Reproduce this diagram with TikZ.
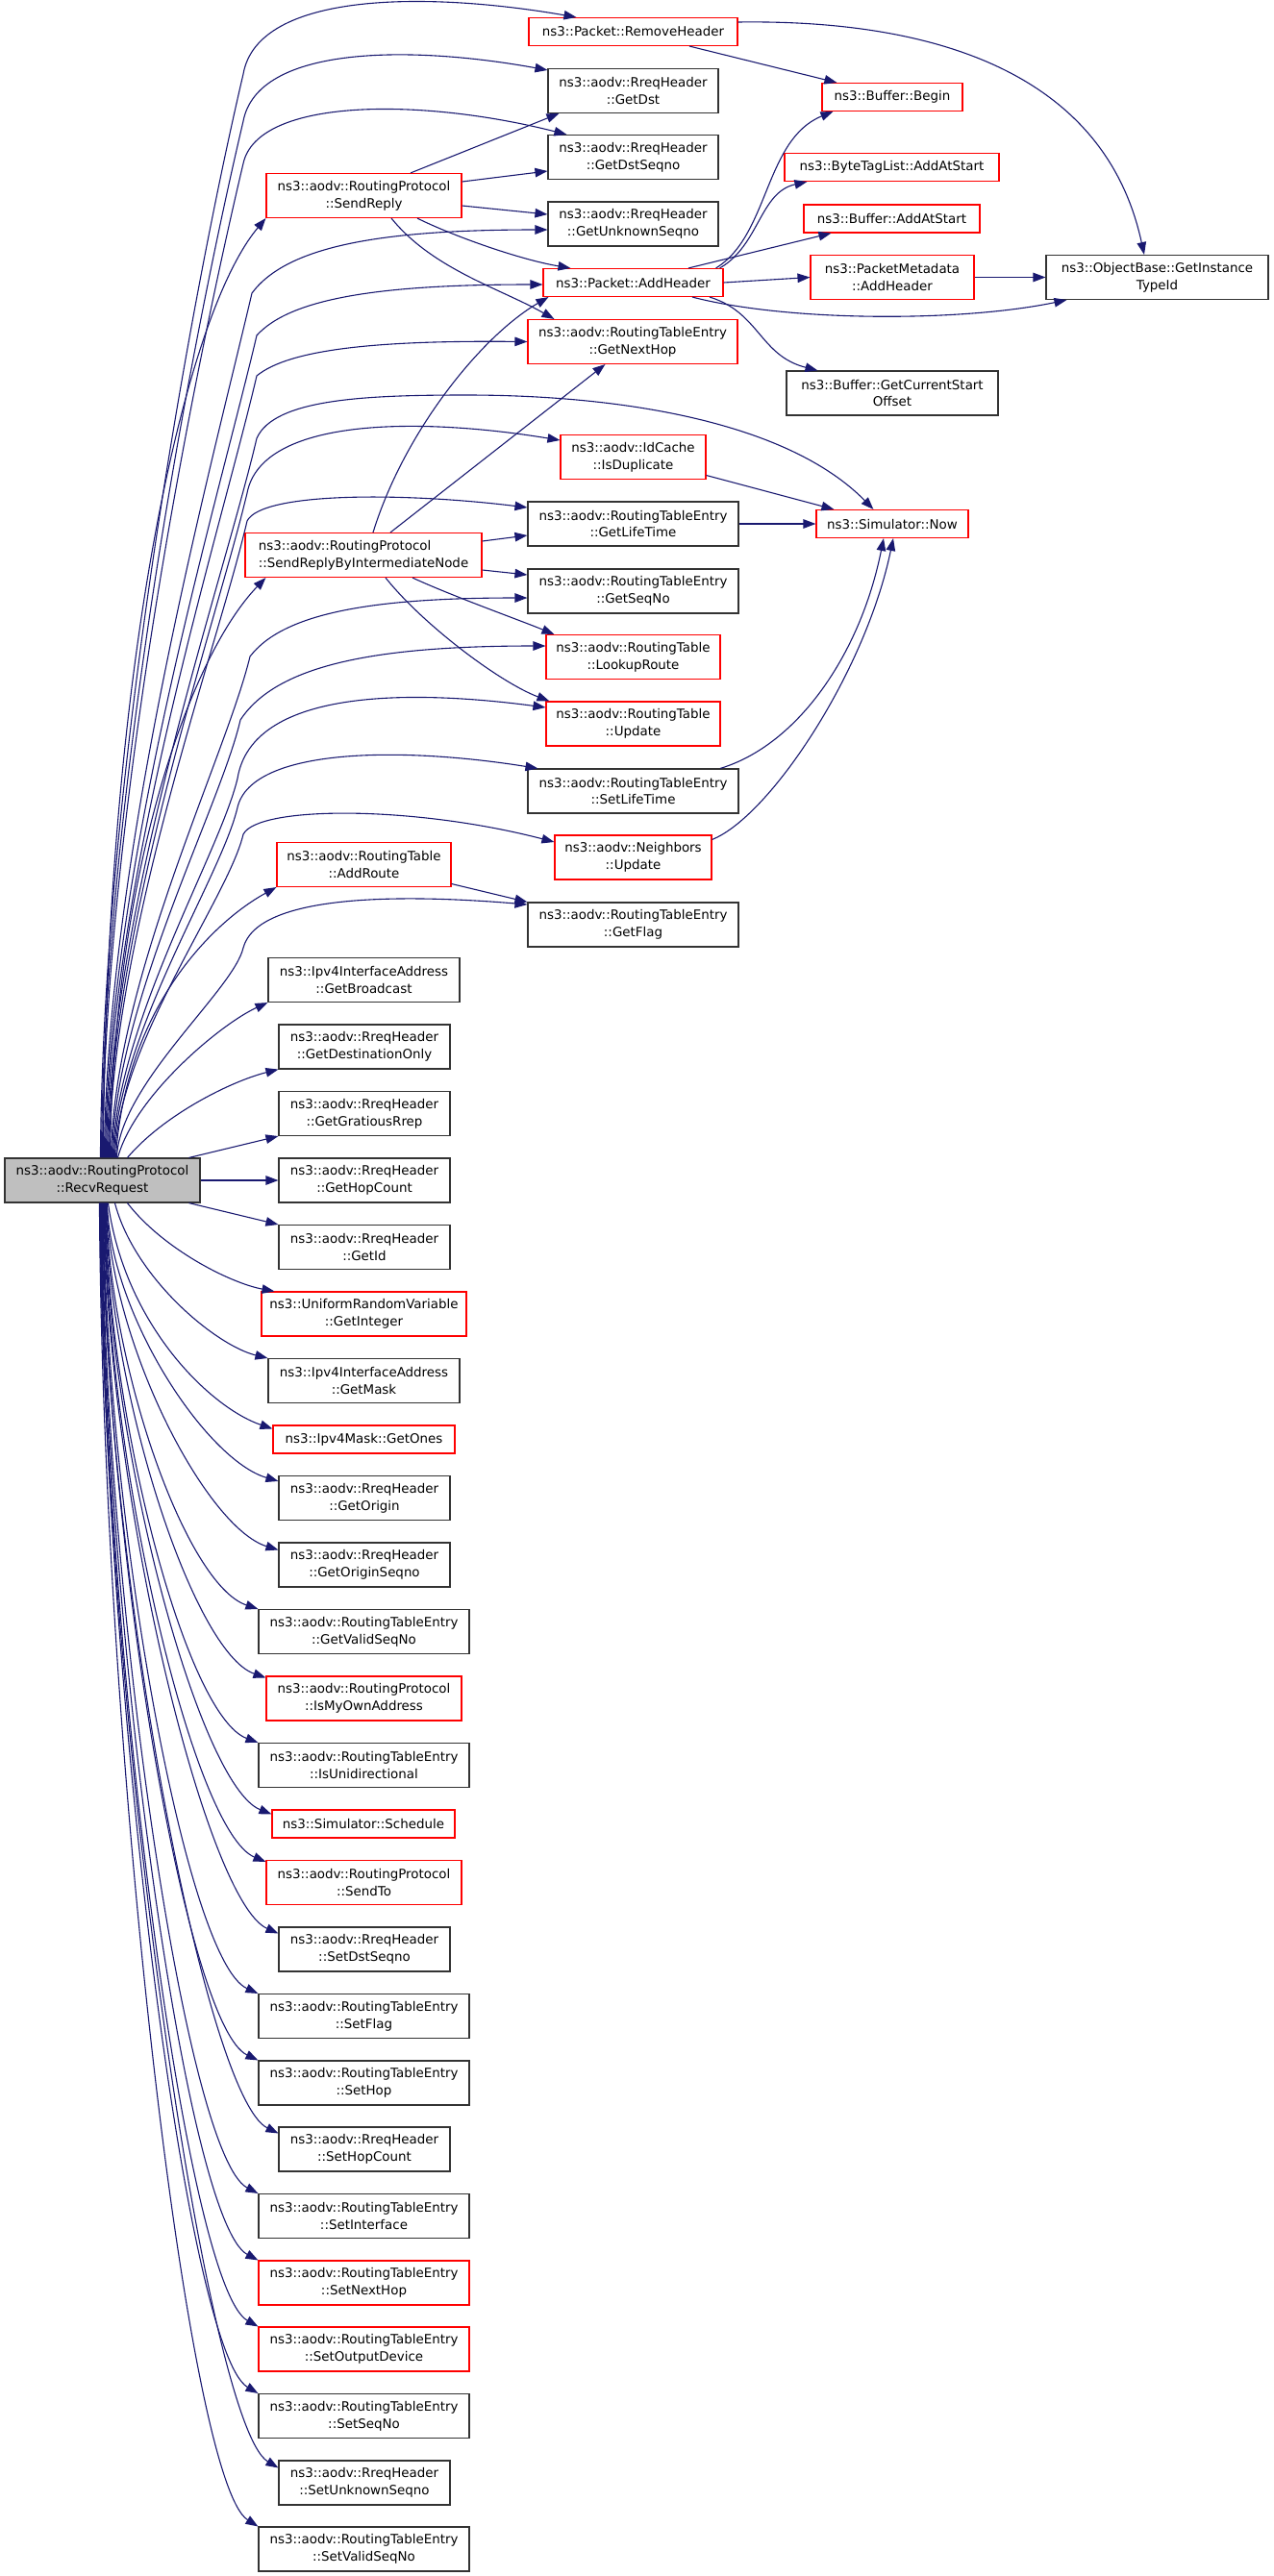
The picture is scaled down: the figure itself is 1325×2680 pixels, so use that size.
\documentclass[tikz,border=0pt]{standalone}
\usepackage{fontspec}
\setmainfont{DejaVu Sans}
\usetikzlibrary{arrows.meta,calc}
\definecolor{edgec}{HTML}{191970}
\definecolor{boxk}{HTML}{333333}
\definecolor{boxr}{HTML}{FF0000}
\definecolor{mainfill}{HTML}{BFBFBF}
\newcommand\nfnt{\fontsize{13.4}{17.6}\selectfont}
\begin{document}
\begin{tikzpicture}[x=1pt,y=-1pt,
  nbase/.style={draw, line width=1.1pt, inner sep=0pt, align=center, font=\nfnt, fill=white},
  kbox/.style={nbase, draw=boxk},
  rbox/.style={nbase, draw=boxr},
  mbox/.style={nbase, draw=boxk, fill=mainfill},
  twol/.style={minimum height=46pt},
  onel/.style={minimum height=29pt},
  conn/.style={draw=edgec, line width=1.1pt, -{Triangle[length=13pt,width=9.5pt]}}
]
\useasboundingbox (0,0) rectangle (1325,2680);

% main node
\node[mbox,twol,minimum width=203pt] (R) at (106.5,1228) {ns3::aodv::RoutingProtocol\\::RecvRequest};

% column 2
\node[rbox,twol,minimum width=203pt] (SR) at (378.5,203.5) {ns3::aodv::RoutingProtocol\\::SendReply};
\node[rbox,twol,minimum width=246pt,align=left] (SRBIN) at (378,577.5) {ns3::aodv::RoutingProtocol\\::SendReplyByIntermediateNode};
\node[rbox,twol,minimum width=181pt] (AR) at (378.5,899.5) {ns3::aodv::RoutingTable\\::AddRoute};
\node[kbox,twol,minimum width=199pt] (GB) at (378.5,1019.5) {ns3::Ipv4InterfaceAddress\\::GetBroadcast};
\node[kbox,twol,minimum width=178pt] (GDO) at (379,1089) {ns3::aodv::RreqHeader\\::GetDestinationOnly};
\node[kbox,twol,minimum width=178pt] (GGR) at (379,1158.5) {ns3::aodv::RreqHeader\\::GetGratiousRrep};
\node[kbox,twol,minimum width=178pt] (GHC) at (379,1228) {ns3::aodv::RreqHeader\\::GetHopCount};
\node[kbox,twol,minimum width=178pt] (GID) at (379,1297.5) {ns3::aodv::RreqHeader\\::GetId};
\node[rbox,twol,minimum width=213pt] (GINT) at (378.5,1367) {ns3::UniformRandomVariable\\::GetInteger};
\node[kbox,twol,minimum width=199pt] (GM) at (378.5,1436.5) {ns3::Ipv4InterfaceAddress\\::GetMask};
\node[rbox,onel,minimum width=189pt] (GONE) at (378.5,1497.5) {ns3::Ipv4Mask::GetOnes};
\node[kbox,twol,minimum width=178pt] (GOR) at (379,1558.5) {ns3::aodv::RreqHeader\\::GetOrigin};
\node[kbox,twol,minimum width=178pt] (GORS) at (379,1628) {ns3::aodv::RreqHeader\\::GetOriginSeqno};
\node[kbox,twol,minimum width=219pt] (GVS) at (378.5,1697.5) {ns3::aodv::RoutingTableEntry\\::GetValidSeqNo};
\node[rbox,twol,minimum width=203pt] (IMOA) at (378.5,1767) {ns3::aodv::RoutingProtocol\\::IsMyOwnAddress};
\node[kbox,twol,minimum width=219pt] (IUNI) at (378.5,1836.5) {ns3::aodv::RoutingTableEntry\\::IsUnidirectional};
\node[rbox,onel,minimum width=190pt] (SCH) at (378,1897.5) {ns3::Simulator::Schedule};
\node[rbox,twol,minimum width=203pt] (STO) at (378.5,1958.5) {ns3::aodv::RoutingProtocol\\::SendTo};
\node[kbox,twol,minimum width=178pt] (SDS) at (379,2028) {ns3::aodv::RreqHeader\\::SetDstSeqno};
\node[kbox,twol,minimum width=219pt] (SFL) at (378.5,2097.5) {ns3::aodv::RoutingTableEntry\\::SetFlag};
\node[kbox,twol,minimum width=219pt] (SHOP) at (378.5,2167) {ns3::aodv::RoutingTableEntry\\::SetHop};
\node[kbox,twol,minimum width=178pt] (SHC) at (379,2236) {ns3::aodv::RreqHeader\\::SetHopCount};
\node[kbox,twol,minimum width=219pt] (SIF) at (378.5,2305.5) {ns3::aodv::RoutingTableEntry\\::SetInterface};
\node[rbox,twol,minimum width=219pt] (SNH) at (378.5,2375) {ns3::aodv::RoutingTableEntry\\::SetNextHop};
\node[rbox,twol,minimum width=219pt] (SOD) at (378.5,2444) {ns3::aodv::RoutingTableEntry\\::SetOutputDevice};
\node[kbox,twol,minimum width=219pt] (SSN) at (378.5,2513.5) {ns3::aodv::RoutingTableEntry\\::SetSeqNo};
\node[kbox,twol,minimum width=178pt] (SUS) at (379,2583) {ns3::aodv::RreqHeader\\::SetUnknownSeqno};
\node[kbox,twol,minimum width=219pt] (SVS) at (378.5,2652) {ns3::aodv::RoutingTableEntry\\::SetValidSeqNo};

% column 3
\node[rbox,onel,minimum width=217pt] (RH) at (658.5,33) {ns3::Packet::RemoveHeader};
\node[kbox,twol,minimum width=177pt] (GDST) at (658.5,94.5) {ns3::aodv::RreqHeader\\::GetDst};
\node[kbox,twol,minimum width=177pt] (GDS) at (658.5,163.5) {ns3::aodv::RreqHeader\\::GetDstSeqno};
\node[kbox,twol,minimum width=177pt] (GUS) at (658.5,233) {ns3::aodv::RreqHeader\\::GetUnknownSeqno};
\node[rbox,onel,minimum width=187pt] (AH) at (658.5,294) {ns3::Packet::AddHeader};
\node[rbox,twol,minimum width=218pt] (GNH) at (658,355.5) {ns3::aodv::RoutingTableEntry\\::GetNextHop};
\node[rbox,twol,minimum width=151pt] (ID) at (658.5,475.5) {ns3::aodv::IdCache\\::IsDuplicate};
\node[kbox,twol,minimum width=219pt] (GLT) at (658.5,545) {ns3::aodv::RoutingTableEntry\\::GetLifeTime};
\node[kbox,twol,minimum width=219pt] (GSN) at (658.5,615) {ns3::aodv::RoutingTableEntry\\::GetSeqNo};
\node[rbox,twol,minimum width=181pt] (LR) at (658.5,683.5) {ns3::aodv::RoutingTable\\::LookupRoute};
\node[rbox,twol,minimum width=181pt] (UPD) at (658.5,753) {ns3::aodv::RoutingTable\\::Update};
\node[kbox,twol,minimum width=219pt] (SLT) at (658.5,823) {ns3::aodv::RoutingTableEntry\\::SetLifeTime};
\node[rbox,twol,minimum width=163pt] (NB) at (658.5,892) {ns3::aodv::Neighbors\\::Update};
\node[kbox,twol,minimum width=219pt] (GF) at (658.5,962) {ns3::aodv::RoutingTableEntry\\::GetFlag};

% column 4
\node[rbox,onel,minimum width=146pt] (BB) at (928,101) {ns3::Buffer::Begin};
\node[rbox,onel,minimum width=223pt] (BTL) at (927.5,174) {ns3::ByteTagList::AddAtStart};
\node[rbox,onel,minimum width=183pt] (BAS) at (927.5,227.5) {ns3::Buffer::AddAtStart};
\node[rbox,twol,minimum width=170pt] (PMA) at (928,288.5) {ns3::PacketMetadata\\::AddHeader};
\node[kbox,twol,minimum width=220pt] (GCSO) at (928,409) {ns3::Buffer::GetCurrentStart\\Offset};
\node[rbox,onel,minimum width=158pt] (NOW) at (928,545) {ns3::Simulator::Now};

% column 5
\node[kbox,twol,minimum width=231pt] (OB) at (1203.5,288.5) {ns3::ObjectBase::GetInstance\\TypeId};

% ---- edges from RecvRequest, upward ----
\draw[conn] ($(R.north west)+(100,0)$) .. controls (107,810) and (200,303) .. (253,77) .. controls (268,-9) and (444,-9) .. ($(RH.north west)+(50,0)$);
\draw[conn] ($(R.north west)+(101,0)$) .. controls (108,827) and (202,342) .. (253,126) .. controls (268,47) and (427,47) .. ($(GDST.north west)+(0,2)$);
\draw[conn] ($(R.north west)+(102,0)$) .. controls (109,843) and (204,377) .. (253,170) .. controls (268,101.5) and (438,101.5) .. ($(GDS.north west)+(20,0)$);
\draw[conn] ($(R.north west)+(103,0)$) .. controls (110,700) and (190,330) .. (SR.south west);
\draw[conn] ($(R.north west)+(104,0)$) .. controls (111,890) and (220,485) .. (262,305) .. controls (299,255) and (400,239) .. ($(GUS.west)+(0,6)$);
\draw[conn] ($(R.north west)+(105,0)$) .. controls (112,905) and (227,520) .. (267,349) .. controls (303,309) and (401,296) .. ($(AH.west)+(0,2)$);
\draw[conn] ($(R.north west)+(106,0)$) .. controls (113,920) and (229,554) .. (267,391) .. controls (301,363) and (394,354) .. (GNH.west);
\draw[conn] ($(R.north west)+(107,0)$) .. controls (114,943) and (232,606) .. (267,456) .. controls (285,415) and (380,411) .. (485,411) .. controls (650,411) and (820,440) .. ($(NOW.north west)+(60,0)$);
\draw[conn] ($(R.north west)+(108,0)$) .. controls (115,963) and (224,651) .. (257,513) .. controls (272,434) and (436,434) .. ($(ID.west)+(0,-17.5)$);
\draw[conn] ($(R.north west)+(109,0)$) .. controls (116,973) and (226,675) .. (257,542) .. controls (272,512) and (418,512) .. ($(GLT.west)+(0,-17)$);
\draw[conn] ($(R.north west)+(110,0)$) .. controls (118,900) and (200,680) .. ($(SRBIN.south west)+(22,0)$);
\draw[conn] ($(R.north west)+(111,0)$) .. controls (118,1022) and (235,787) .. (260,683) .. controls (295,637) and (390,622) .. ($(GSN.west)+(0,7)$);
\draw[conn] ($(R.north west)+(112,0)$) .. controls (119,1045) and (229,840) .. (250,749) .. controls (288,691) and (393,672) .. ($(LR.west)+(0,-11.5)$);
\draw[conn] ($(R.north west)+(113,0)$) .. controls (120,1067) and (228,889) .. (247,810) .. controls (262,717) and (424,717) .. ($(UPD.west)+(0,-17)$);
\draw[conn] ($(R.north west)+(114,0)$) .. controls (121,1077) and (230,913) .. (247,840) .. controls (262,777) and (420,777) .. ($(SLT.north west)+(11,0)$);
\draw[conn] ($(R.north west)+(115,0)$) .. controls (122,1087) and (237,935) .. (253,868) .. controls (268,838) and (431,838) .. ($(NB.west)+(0,-16)$);
\draw[conn] ($(R.north west)+(116,0)$) .. controls (130,1050) and (220,960) .. (AR.south west);
\draw[conn] ($(R.north west)+(117,0)$) .. controls (124,1128) and (243,1030) .. (253,986) .. controls (268,930) and (417,930) .. ($(GF.west)+(0,-21)$);
\draw[conn] ($(R.north west)+(118,0)$) .. controls (140,1140) and (230,1065) .. (GB.south west);
\draw[conn] ($(R.north west)+(128,0)$) .. controls (170,1160) and (240,1125) .. (GDO.south west);
\draw[conn] ($(R.north west)+(192,0)$) -- (GGR.south west);
\draw[conn] (R.east) -- (GHC.west);

% ---- edges from RecvRequest, downward ----
\draw[conn] ($(R.south west)+(192,0)$) -- (GID.north west);
\draw[conn] ($(R.south west)+(128,0)$) .. controls (170,1300) and (240,1335) .. ($(GINT.north west)+(14,0)$);
\draw[conn] ($(R.south west)+(115,0)$) .. controls (140,1330) and (225,1400) .. (GM.north west);
\draw[conn] ($(R.south west)+(108,0)$) .. controls (130,1380) and (220,1465) .. ($(GONE.north west)+(0,4)$);
\draw[conn] ($(R.south west)+(107,0)$) .. controls +(3,116) and +(-75,-22) .. ($(GOR.north west)+(0,6)$);
\draw[conn] ($(R.south west)+(106.5,0)$) .. controls +(3,145) and +(-75,-23) .. ($(GORS.north west)+(0,8)$);
\draw[conn] ($(R.south west)+(106,0)$) .. controls +(3,170) and +(-75,-25) .. (GVS.north west);
\draw[conn] ($(R.south west)+(105.5,0)$) .. controls +(3,198) and +(-75,-26) .. ($(IMOA.north west)+(0,2)$);
\draw[conn] ($(R.south west)+(105,0)$) .. controls +(3,225) and +(-75,-28) .. (IUNI.north west);
\draw[conn] ($(R.south west)+(104.5,0)$) .. controls +(3,255) and +(-75,-30) .. ($(SCH.north west)+(0,5)$);
\draw[conn] ($(R.south west)+(104,0)$) .. controls +(3,275) and +(-75,-31) .. ($(STO.north west)+(0,2)$);
\draw[conn] ($(R.south west)+(103.5,0)$) .. controls +(3,304) and +(-75,-33) .. ($(SDS.north west)+(0,7)$);
\draw[conn] ($(R.south west)+(103,0)$) .. controls +(3,330) and +(-75,-34) .. (SFL.north west);
\draw[conn] ($(R.south west)+(102.5,0)$) .. controls +(3,357) and +(-75,-36) .. (SHOP.north west);
\draw[conn] ($(R.south west)+(102,0)$) .. controls +(3,388) and +(-75,-37) .. ($(SHC.north west)+(0,7)$);
\draw[conn] ($(R.south west)+(101.5,0)$) .. controls +(3,413) and +(-75,-39) .. (SIF.north west);
\draw[conn] ($(R.south west)+(101,0)$) .. controls +(3,441) and +(-75,-40) .. (SNH.north west);
\draw[conn] ($(R.south west)+(100.5,0)$) .. controls +(3,468) and +(-75,-42) .. (SOD.north west);
\draw[conn] ($(R.south west)+(100,0)$) .. controls +(3,496) and +(-75,-44) .. (SSN.north west);
\draw[conn] ($(R.south west)+(99.5,0)$) .. controls +(3,527) and +(-75,-45) .. ($(SUS.north west)+(0,8)$);
\draw[conn] ($(R.south west)+(99,0)$) .. controls +(3,552) and +(-75,-47) .. (SVS.north west);

% ---- SendReply ----
\draw[conn] ($(SR.north)+(48.5,0)$) -- ($(GDST.south west)+(12,0)$);
\draw[conn] ($(SR.east)+(0,-14.5)$) -- ($(GDS.west)+(0,14.5)$);
\draw[conn] ($(SR.east)+(0,10.5)$) -- ($(GUS.west)+(0,-10)$);
\draw[conn] ($(SR.south)+(55.5,0)$) .. controls (470,245) and (540,270) .. ($(AH.north west)+(29,0)$);
\draw[conn] ($(SR.south)+(28.5,0)$) .. controls (450,280) and (520,300) .. ($(GNH.north west)+(28,0)$);

% ---- SendReplyByIntermediateNode ----
\draw[conn] ($(SRBIN.north)+(10,0)$) .. controls (420,450) and (500,350) .. ($(AH.south west)+(6,0)$);
\draw[conn] ($(SRBIN.north)+(28,0)$) -- ($(GNH.south west)+(81,0)$);
\draw[conn] ($(SRBIN.east)+(0,-14.5)$) -- ($(GLT.west)+(0,12)$);
\draw[conn] ($(SRBIN.east)+(0,15.5)$) -- ($(GSN.west)+(0,-17)$);
\draw[conn] ($(SRBIN.south)+(51,0)$) .. controls (470,620) and (540,645) .. ($(LR.north west)+(9,0)$);
\draw[conn] ($(SRBIN.south)+(23,0)$) .. controls (440,650) and (520,710) .. ($(UPD.north west)+(4,0)$);

% ---- RemoveHeader / AddHeader ----
\draw[conn] ($(RH.south)+(58.5,0)$) -- ($(BB.north west)+(16,0)$);
\draw[conn] ($(RH.east)+(0,-10)$) .. controls (980,20) and (1150,80) .. ($(OB.north)+(-13.5,0)$);
\draw[conn] ($(AH.north east)+(-8,0)$) .. controls (800,245) and (795,145) .. ($(BB.south west)+(12,0)$);
\draw[conn] ($(AH.north east)+(-4,0)$) .. controls (790,255) and (790,200) .. ($(BTL.south west)+(24,0)$);
\draw[conn] ($(AH.north)+(57.5,0)$) -- ($(BAS.south west)+(29,0)$);
\draw[conn] (AH.east) -- (PMA.west);
\draw[conn] ($(AH.south)+(61.5,0)$) .. controls (820,335) and (1000,335) .. ($(OB.south west)+(22,0)$);
\draw[conn] ($(AH.south)+(79.5,0)$) .. controls (790,325) and (790,370) .. ($(GCSO.north west)+(33,0)$);
\draw[conn] (PMA.east) -- (OB.west);

% ---- to Simulator::Now ----
\draw[conn] ($(ID.east)+(0,19)$) -- ($(NOW.north west)+(19,0)$);
\draw[conn] (GLT.east) -- (NOW.west);
\draw[conn] ($(SLT.north)+(90.5,0)$) .. controls (830,775) and (895,680) .. ($(NOW.south)+(-9,0)$);
\draw[conn] ($(NB.north east)+(0,5)$) .. controls (800,850) and (900,700) .. ($(NOW.south)+(1,0)$);

% ---- AddRoute ----
\draw[conn] ($(AR.east)+(0,20)$) -- (GF.north west);
\end{tikzpicture}
\end{document}
